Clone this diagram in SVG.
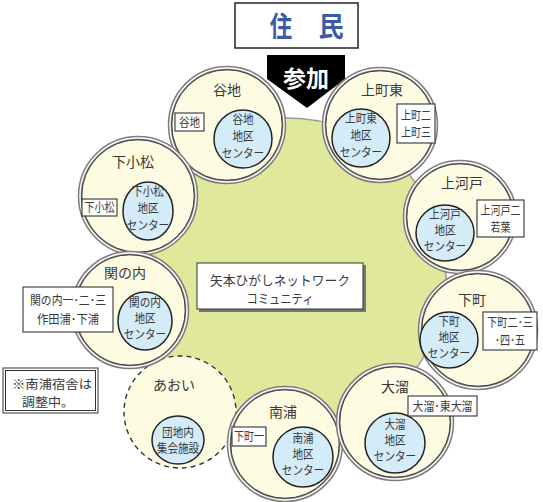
<svg xmlns="http://www.w3.org/2000/svg" width="543" height="502" viewBox="0 0 543 502">
<style>
text{font-family:"Noto Sans CJK JP","Noto Sans CJK SC",sans-serif;fill:#3a3a3a;text-anchor:middle}
.ring{fill:#fdfbe2;stroke:#7d7d7d;stroke-width:4.5}
.ringw{fill:none;stroke:#fff;stroke-width:1.4}
.ringi{fill:none;stroke:#3a3a3a;stroke-width:0.9}
.inner{fill:#d4ebf8;stroke:#222;stroke-width:1.5}
.lbl{font-size:14px}
.in{font-size:12.5px}
.box{fill:#fff;stroke:#333;stroke-width:1.1}
.bt{font-size:12.5px}
</style>
<!-- arrow -->
<g id="arrow">
<polygon points="267,55 345,55 345,79 307,108 267,79" fill="#000"/>
</g>
<!-- green community circle -->
<g id="community">
<circle cx="288" cy="276" r="158" fill="#dfe89b" stroke="#9a9a9a" stroke-width="1.5"/>
</g>
<g id="title">
<rect x="235" y="3" width="123" height="45" fill="#fff" stroke="#222" stroke-width="1.5"/>
<text x="0" y="0" transform="translate(281,37) scale(0.8,1)" style="font-size:28px;font-weight:bold;fill:#3b5ba6">住</text>
<text x="0" y="0" transform="translate(331,37) scale(0.9,1)" style="font-size:28px;font-weight:bold;fill:#3b5ba6">民</text>
</g>
<g id="connectors"></g>
<!-- あおい -->
<g id="aoi">
<circle cx="180" cy="412" r="56" fill="#fdfbe2" stroke="#333" stroke-width="1.4" stroke-dasharray="5,4"/>
<text class="lbl" x="174" y="390">あおい</text>
<ellipse class="inner" cx="178" cy="440" rx="26" ry="24"/>
<text class="in" transform="translate(178,437) scale(0.85,1)">団地内</text>
<text class="in" transform="translate(178,453) scale(0.85,1)">集会施設</text>
</g>
<g id="yachi">
<circle class="ring" cx="227" cy="125" r="57"/><circle class="ringw" cx="227" cy="125" r="57"/><circle class="ringi" cx="227" cy="125" r="55.3"/>
<text class="lbl" x="227" y="95">谷地</text>
<circle class="inner" cx="243" cy="139" r="29"/>
<text class="in" transform="translate(243,124) scale(0.85,1)">谷地</text>
<text class="in" transform="translate(243,141) scale(0.85,1)">地区</text>
<text class="in" transform="translate(243,158) scale(0.85,1)">センター</text>
</g>
<g id="kamimachihigashi">
<circle class="ring" cx="380" cy="125" r="56"/><circle class="ringw" cx="380" cy="125" r="56"/><circle class="ringi" cx="380" cy="125" r="54.3"/>
<text class="lbl" x="382" y="95">上町東</text>
<circle class="inner" cx="361" cy="138" r="29"/>
<text class="in" transform="translate(361,123) scale(0.85,1)">上町東</text>
<text class="in" transform="translate(361,140) scale(0.85,1)">地区</text>
<text class="in" transform="translate(361,157) scale(0.85,1)">センター</text>
</g>
<g id="shimokomatsu">
<circle class="ring" cx="138" cy="196" r="58"/><circle class="ringw" cx="138" cy="196" r="58"/><circle class="ringi" cx="138" cy="196" r="56.3"/>
<text class="lbl" x="133" y="167">下小松</text>
<ellipse class="inner" cx="148" cy="211" rx="25" ry="29"/>
<text class="in" transform="translate(148,196) scale(0.85,1)">下小松</text>
<text class="in" transform="translate(148,213) scale(0.85,1)">地区</text>
<text class="in" transform="translate(148,230) scale(0.85,1)">センター</text>
</g>
<g id="kamikodo">
<circle class="ring" cx="460" cy="217" r="55"/><circle class="ringw" cx="460" cy="217" r="55"/><circle class="ringi" cx="460" cy="217" r="53.3"/>
<text class="lbl" x="462" y="188">上河戸</text>
<ellipse class="inner" cx="445" cy="233" rx="29" ry="28"/>
<text class="in" transform="translate(445,219) scale(0.85,1)">上河戸</text>
<text class="in" transform="translate(445,235) scale(0.85,1)">地区</text>
<text class="in" transform="translate(445,251) scale(0.85,1)">センター</text>
</g>
<g id="sekinouchi">
<circle class="ring" cx="130" cy="310" r="57"/><circle class="ringw" cx="130" cy="310" r="57"/><circle class="ringi" cx="130" cy="310" r="55.3"/>
<text class="lbl" x="125" y="278">関の内</text>
<ellipse class="inner" cx="145" cy="321" rx="27" ry="29"/>
<text class="in" transform="translate(145,307) scale(0.85,1)">関の内</text>
<text class="in" transform="translate(145,323) scale(0.85,1)">地区</text>
<text class="in" transform="translate(145,339) scale(0.85,1)">センター</text>
</g>
<g id="shitamachi">
<circle class="ring" cx="478" cy="330" r="58"/><circle class="ringw" cx="478" cy="330" r="58"/><circle class="ringi" cx="478" cy="330" r="56.3"/>
<text class="lbl" x="472" y="305">下町</text>
<ellipse class="inner" cx="449" cy="340" rx="29" ry="28"/>
<text class="in" transform="translate(449,326) scale(0.85,1)">下町</text>
<text class="in" transform="translate(449,342) scale(0.85,1)">地区</text>
<text class="in" transform="translate(449,358) scale(0.85,1)">センター</text>
</g>
<g id="minamiura">
<circle class="ring" cx="285" cy="444" r="56"/><circle class="ringw" cx="285" cy="444" r="56"/><circle class="ringi" cx="285" cy="444" r="54.3"/>
<text class="lbl" x="283" y="417">南浦</text>
<circle class="inner" cx="303" cy="457" r="30"/>
<text class="in" transform="translate(303,443) scale(0.85,1)">南浦</text>
<text class="in" transform="translate(303,459) scale(0.85,1)">地区</text>
<text class="in" transform="translate(303,475) scale(0.85,1)">センター</text>
</g>
<g id="otamari">
<circle class="ring" cx="395" cy="422" r="57"/><circle class="ringw" cx="395" cy="422" r="57"/><circle class="ringi" cx="395" cy="422" r="55.3"/>
<text class="lbl" x="395" y="392">大溜</text>
<circle class="inner" cx="395" cy="443" r="30"/>
<text class="in" transform="translate(395,429) scale(0.85,1)">大溜</text>
<text class="in" transform="translate(395,445) scale(0.85,1)">地区</text>
<text class="in" transform="translate(395,461) scale(0.85,1)">センター</text>
</g>
<!-- boxes -->
<g id="boxes">
<rect class="box" x="175" y="113" width="29" height="18"/>
<text class="bt" transform="translate(189.5,127) scale(0.85,1)">谷地</text>
<rect class="box" x="397" y="104" width="38" height="39"/>
<text class="bt" transform="translate(416,120) scale(0.8,1)">上町二</text>
<text class="bt" transform="translate(416,137) scale(0.8,1)">上町三</text>
<rect class="box" x="82" y="199" width="35" height="17"/>
<text class="bt" transform="translate(99.5,212) scale(0.8,1)">下小松</text>
<rect class="box" x="477" y="200" width="47" height="37"/>
<text class="bt" transform="translate(500.5,215) scale(0.8,1)">上河戸二</text>
<text class="bt" transform="translate(500.5,232) scale(0.8,1)">若葉</text>
<rect class="box" x="23" y="287" width="90" height="45"/>
<text class="bt" x="68" y="305" textLength="76" lengthAdjust="spacingAndGlyphs">関の内一･二･三</text>
<text class="bt" x="68" y="324" textLength="62" lengthAdjust="spacingAndGlyphs">作田浦･下浦</text>
<rect class="box" x="483" y="312" width="54" height="38"/>
<text class="bt" x="510" y="327" textLength="46" lengthAdjust="spacingAndGlyphs">下町二･三</text>
<text class="bt" x="510" y="345" textLength="30" lengthAdjust="spacingAndGlyphs">･四･五</text>
<rect class="box" x="408" y="396" width="69" height="20"/>
<text class="bt" x="442.5" y="411" textLength="60" lengthAdjust="spacingAndGlyphs">大溜･東大溜</text>
<rect class="box" x="232" y="427" width="34" height="19"/>
<text class="bt" transform="translate(249,441) scale(0.8,1)">下町一</text>
</g>
<g id="center">
<rect x="199" y="265" width="167" height="47" fill="#777"/>
<rect x="197" y="263" width="166" height="46" fill="#fff" stroke="#333" stroke-width="1"/>
<text x="280" y="285" style="font-size:13px" textLength="140" lengthAdjust="spacingAndGlyphs">矢本ひがしネットワーク</text>
<text x="280" y="303" style="font-size:13px" textLength="67" lengthAdjust="spacingAndGlyphs">コミュニティ</text>
</g>
<g id="note">
<rect x="3" y="368" width="95" height="45" fill="#fff" stroke="#333" stroke-width="1"/>
<rect x="5.5" y="370.5" width="90" height="40" fill="none" stroke="#333" stroke-width="1"/>
<text x="52" y="389" style="font-size:12.5px" textLength="80" lengthAdjust="spacingAndGlyphs">※南浦宿舎は</text>
<text x="48" y="407" style="font-size:12.5px" textLength="52" lengthAdjust="spacingAndGlyphs">調整中。</text>
</g>
<g id="sanka">
<text x="306" y="87" style="font-size:23px;font-weight:bold;fill:#fff">参加</text>
</g>
</svg>
